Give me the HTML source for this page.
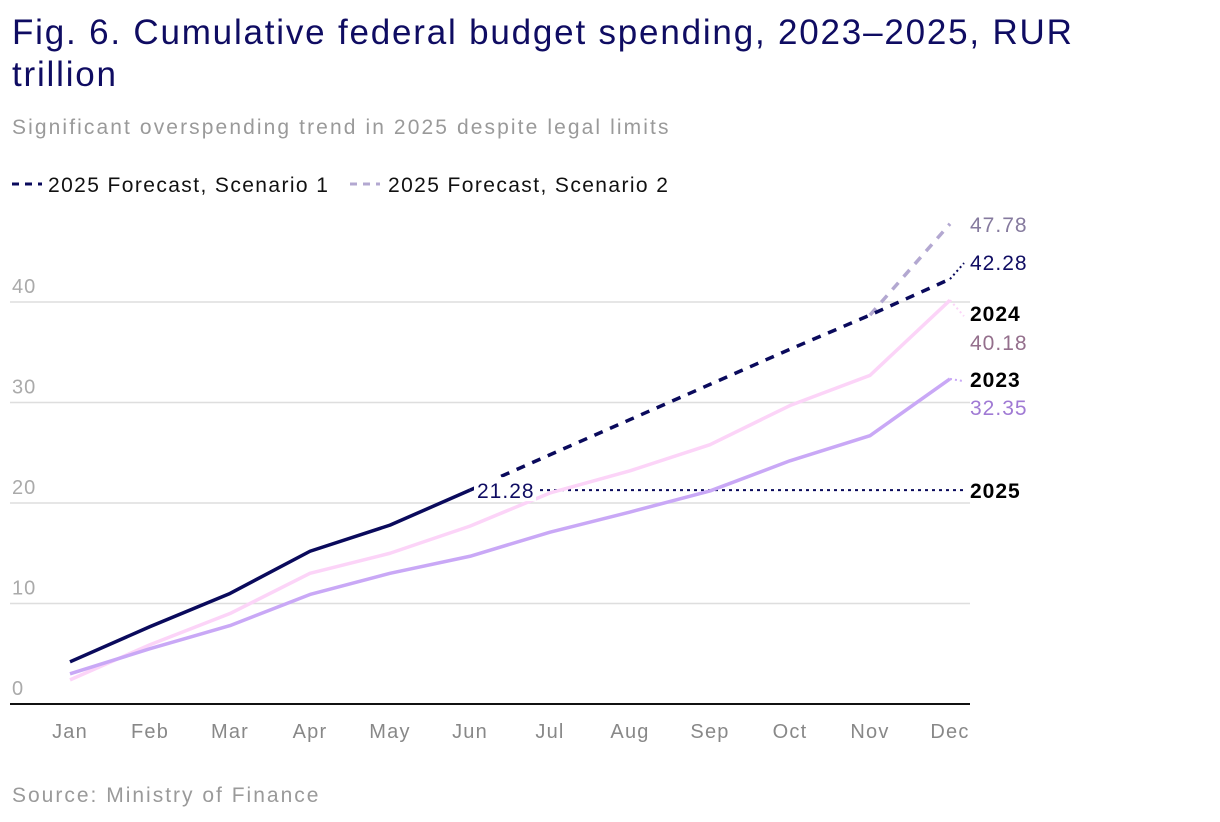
<!DOCTYPE html>
<html><head><meta charset="utf-8">
<style>
body{margin:0;background:#fff;width:1220px;height:822px;overflow:hidden;font-family:"Liberation Sans",sans-serif}
#title{position:absolute;left:12px;top:12px;width:1140px;font-size:35px;line-height:42px;color:#0f0c62;margin:0;font-weight:normal;letter-spacing:1.8px}
#sub{position:absolute;left:12px;top:116px;font-size:21px;color:#9a9a9a;letter-spacing:2.1px}
#src{position:absolute;left:12px;top:784px;font-size:21px;color:#9a9a9a;letter-spacing:2px}
svg{position:absolute;left:0;top:0}
</style></head><body>
<h1 id="title">Fig. 6. Cumulative federal budget spending, 2023–2025, RUR trillion</h1>
<div id="sub">Significant overspending trend in 2025 despite legal limits</div>
<div id="src">Source: Ministry of Finance</div>
<svg id="chart" width="1220" height="822"></svg>
<script>
const months=["Jan","Feb","Mar","Apr","May","Jun","Jul","Aug","Sep","Oct","Nov","Dec"];
const yTicks=[0,10,20,30,40];
const s2025=[4.2,7.7,11.0,15.2,17.8,21.28];
const s2024=[2.4,5.9,9.0,13.0,15.0,17.7,21.0,23.2,25.8,29.7,32.7,40.18];
const s2023=[3.0,5.5,7.8,10.9,13.0,14.7,17.1,19.1,21.2,24.2,26.7,32.35];
const f1=[21.28,24.8,28.3,31.8,35.3,38.7,42.28];
const f2=[38.7,47.78];
const X=i=>70+i*80, Y=v=>704-v*10.05;
const svg=document.getElementById('chart'),NS="http://www.w3.org/2000/svg";
function mk(t,a,p){const e=document.createElementNS(NS,t);for(const k in a)e.setAttribute(k,a[k]);(p||svg).appendChild(e);return e;}
function txt(s,x,y,a){const e=mk('text',Object.assign({x:x,y:y,'font-family':'Liberation Sans, sans-serif'},a));e.textContent=s;return e;}
let l=mk('line',{x1:12,y1:184,x2:42,y2:184,stroke:'#0a0a5c','stroke-width':3,'stroke-dasharray':'7 6'});

let t=txt('2025 Forecast, Scenario 1',48,192,{'font-size':21,fill:'#111','letter-spacing':1.4});

l=mk('line',{x1:350,y1:184,x2:380,y2:184,stroke:'#b3a8d1','stroke-width':3,'stroke-dasharray':'7 6'});

t=txt('2025 Forecast, Scenario 2',388,192,{'font-size':21,fill:'#111','letter-spacing':1.4});

yTicks.forEach(v=>{
 if(v>0){const g=mk('line',{x1:10,x2:970,y1:Y(v),y2:Y(v),stroke:'#dedede','stroke-width':1.5});
 }
 const tt=txt(String(v),12,Y(v)-9,{'font-size':20,fill:'#aaa','letter-spacing':1});
 
});
const ax=mk('line',{x1:10,x2:970,y1:704,y2:704,stroke:'#111','stroke-width':2});

months.forEach((m,i)=>{const tt=txt(m,X(i),738,{'font-size':20,fill:'#888','text-anchor':'middle','letter-spacing':1.2});
 });
function line(arr,off,color,w,dash,name){
 const p=mk('polyline',{points:arr.map((v,i)=>X(i+off)+','+Y(v)).join(' '),fill:'none',stroke:color,'stroke-width':w,'stroke-linejoin':'round'});
 if(dash)p.setAttribute('stroke-dasharray',dash);
 return p;}
const hl=mk('line',{x1:540,x2:965,y1:Y(s2025[5]),y2:Y(s2025[5]),stroke:'#0a0a5c','stroke-width':2,'stroke-dasharray':'3 4'});

line(s2024,0,'#fcd4f8',3.5,null,'line-2024');
line(s2023,0,'#c9a8f6',3.5,null,'line-2023');
line(f2,10,'#b3a8d1',3.5,'9 8','line-scenario-2');
line(f1,5,'#0a0a5c',3.5,'9 8','line-scenario-1');
line(s2025,0,'#0a0a5c',3.5,null,'line-2025');
function conn(x1,y1,x2,y2,c,n){const e=mk('line',{x1:x1,y1:y1,x2:x2,y2:y2,stroke:c,'stroke-width':2,'stroke-dasharray':'2 3'});}
conn(X(11),Y(f1[6]),X(11)+14,Y(f1[6])-16,'#0a0a5c','connector-42');
conn(X(11),Y(s2024[11]),X(11)+14,Y(s2024[11])+16,'#fcd4f8','connector-2024');
conn(X(11),Y(s2023[11]),X(11)+12,Y(s2023[11])+2,'#c9a8f6','connector-2023');
function lab(s,x,y,c,b,n){const e=txt(s,x,y,{'font-size':21,fill:c,'font-weight':b?'bold':'normal','letter-spacing':1});}
lab(f2[1].toFixed(2),970,232,'#857a9e',0,'label-47-78');
lab(f1[6].toFixed(2),970,270,'#0f0c62',0,'label-42-28');
lab('2024',970,321,'#000',1,'label-2024');
lab(s2024[11].toFixed(2),970,350,'#946f8c',0,'label-40-18');
lab('2023',970,387,'#000',1,'label-2023');
lab(s2023[11].toFixed(2),970,415,'#a07ad4',0,'label-32-35');
lab('2025',970,498,'#000',1,'label-2025');
const bg=mk('rect',{x:474,y:Y(s2025[5])-13,width:62,height:24,fill:'#fff'});
lab(s2025[5].toFixed(2),477,Y(s2025[5])+8,'#0f0c62',0,'label-21-28');
</script>
</body></html>
